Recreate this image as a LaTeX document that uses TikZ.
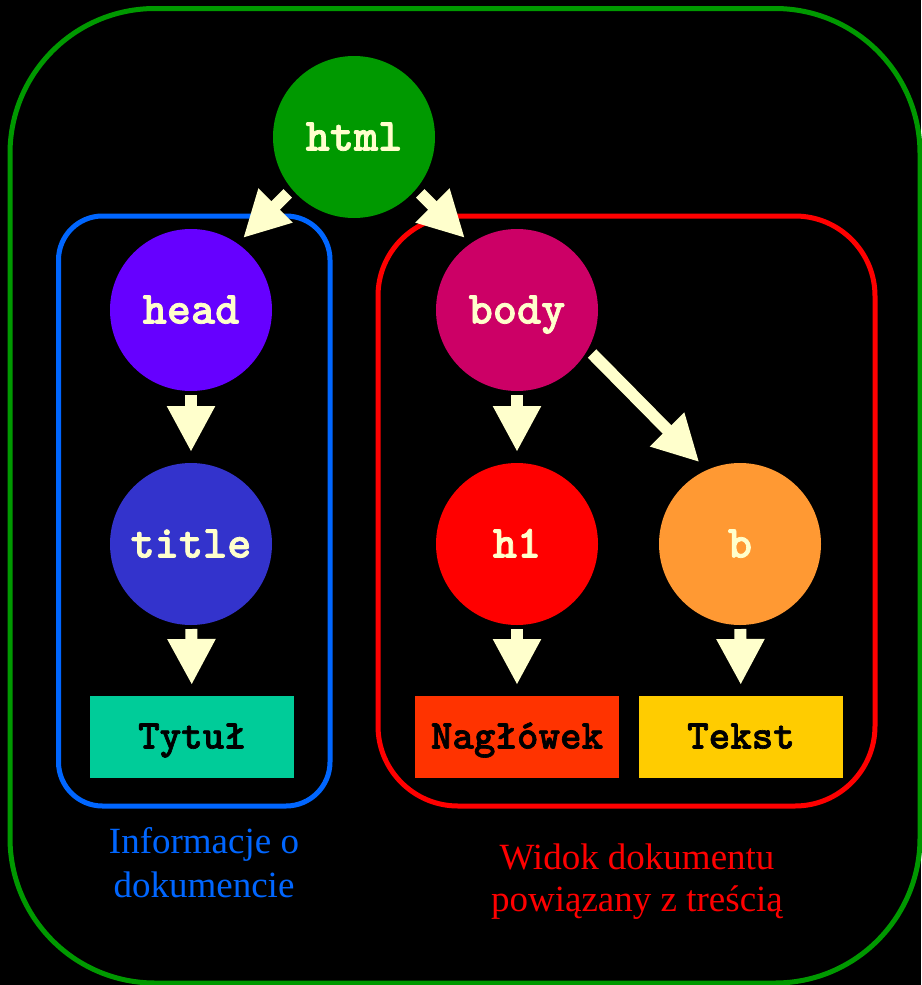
\documentclass[tikz,border=0pt]{standalone}
\usepackage{fontspec}
\setmainfont{Liberation Serif}
\newfontfamily\tagfont{lmmonolt10-bold.otf}[FakeBold=1.6]
\usetikzlibrary{arrows.meta}
\definecolor{htmlgreen}{HTML}{009900}
\definecolor{headviolet}{HTML}{6600FF}
\definecolor{titleblue}{HTML}{3333CC}
\definecolor{bodypink}{HTML}{CC0066}
\definecolor{hred}{HTML}{FF0000}
\definecolor{borange}{HTML}{FF9933}
\definecolor{tytulgreen}{HTML}{00CC99}
\definecolor{naglowekred}{HTML}{FF3300}
\definecolor{tekstyellow}{HTML}{FFCC00}
\definecolor{zoneblue}{HTML}{0066FF}
\definecolor{arrowyellow}{HTML}{FFFFCC}

\begin{document}
\begin{tikzpicture}[x=1pt,y=-1pt,
  tag/.style={circle,fill=#1,minimum size=162pt,inner sep=0pt,outer sep=0pt,
    text=arrowyellow,font=\fontsize{46}{54}\selectfont\tagfont,
    text height=27pt,text depth=0pt},
  leaf/.style={fill=#1,minimum width=204pt,minimum height=82pt,inner sep=0pt,
    outer sep=0pt,font=\fontsize{41}{48}\selectfont\tagfont,
    text height=23pt,text depth=0pt},
  arr/.style={line width=12pt,arrowyellow,-{Triangle[length=46pt,width=45pt]}},
  zone/.style={line width=5pt,rounded corners=#1},
  caption/.style={align=center,anchor=base,inner sep=0pt}]
\useasboundingbox (0,0) rectangle (921,985);
\fill[black] (0,0) rectangle (921,985);
\draw[zone=145pt,htmlgreen] (10,8.5) rectangle (920,983);
\draw[zone=44pt,zoneblue] (58.5,216) rectangle (330,806);
\draw[zone=80pt,hred] (378,216) rectangle (875,806);

\node[tag=htmlgreen] (html) at (354,137) {html};
\node[tag=headviolet] (head) at (191,310) {head};
\node[tag=titleblue] (title) at (191,544) {title};
\node[tag=bodypink] (body) at (517,310) {body};
\node[tag=hred] (h1) at (517,544) {h1};
\node[tag=borange] (b) at (740,544) {b};
\node[leaf=tytulgreen] (tytul) at (192,737) {Tytuł};
\node[leaf=naglowekred] (naglowek) at (517,737) {Nagłówek};
\node[leaf=tekstyellow] (tekst) at (741,737) {Tekst};

\draw[arr,shorten <=6pt,shorten >=8pt] (html.-140) -- (head.55);
\draw[arr,shorten <=6pt,shorten >=8pt] (html.-40) -- (body.125);
\draw[arr,shorten <=4pt,shorten >=11pt] (head) -- (title);
\draw[arr,shorten <=4pt,shorten >=11pt] (body) -- (h1);
\draw[arr,shorten <=6pt,shorten >=11pt] (body.-29) -- (b.114);
\draw[arr,shorten <=4pt,shorten >=11pt] (title) -- (tytul);
\draw[arr,shorten <=4pt,shorten >=11pt] (h1) -- (naglowek);
\draw[arr,shorten <=4pt,shorten >=11pt] (b) -- (tekst);

\node[caption,text=zoneblue,font=\fontsize{37}{44}\selectfont] (info) at (204,897)
  {Informacje o\\dokumencie};
\node[caption,text=hred,font=\fontsize{37}{42}\selectfont] (widok) at (637,911)
  {Widok dokumentu\\powiązany z treścią};
\end{tikzpicture}
\end{document}
